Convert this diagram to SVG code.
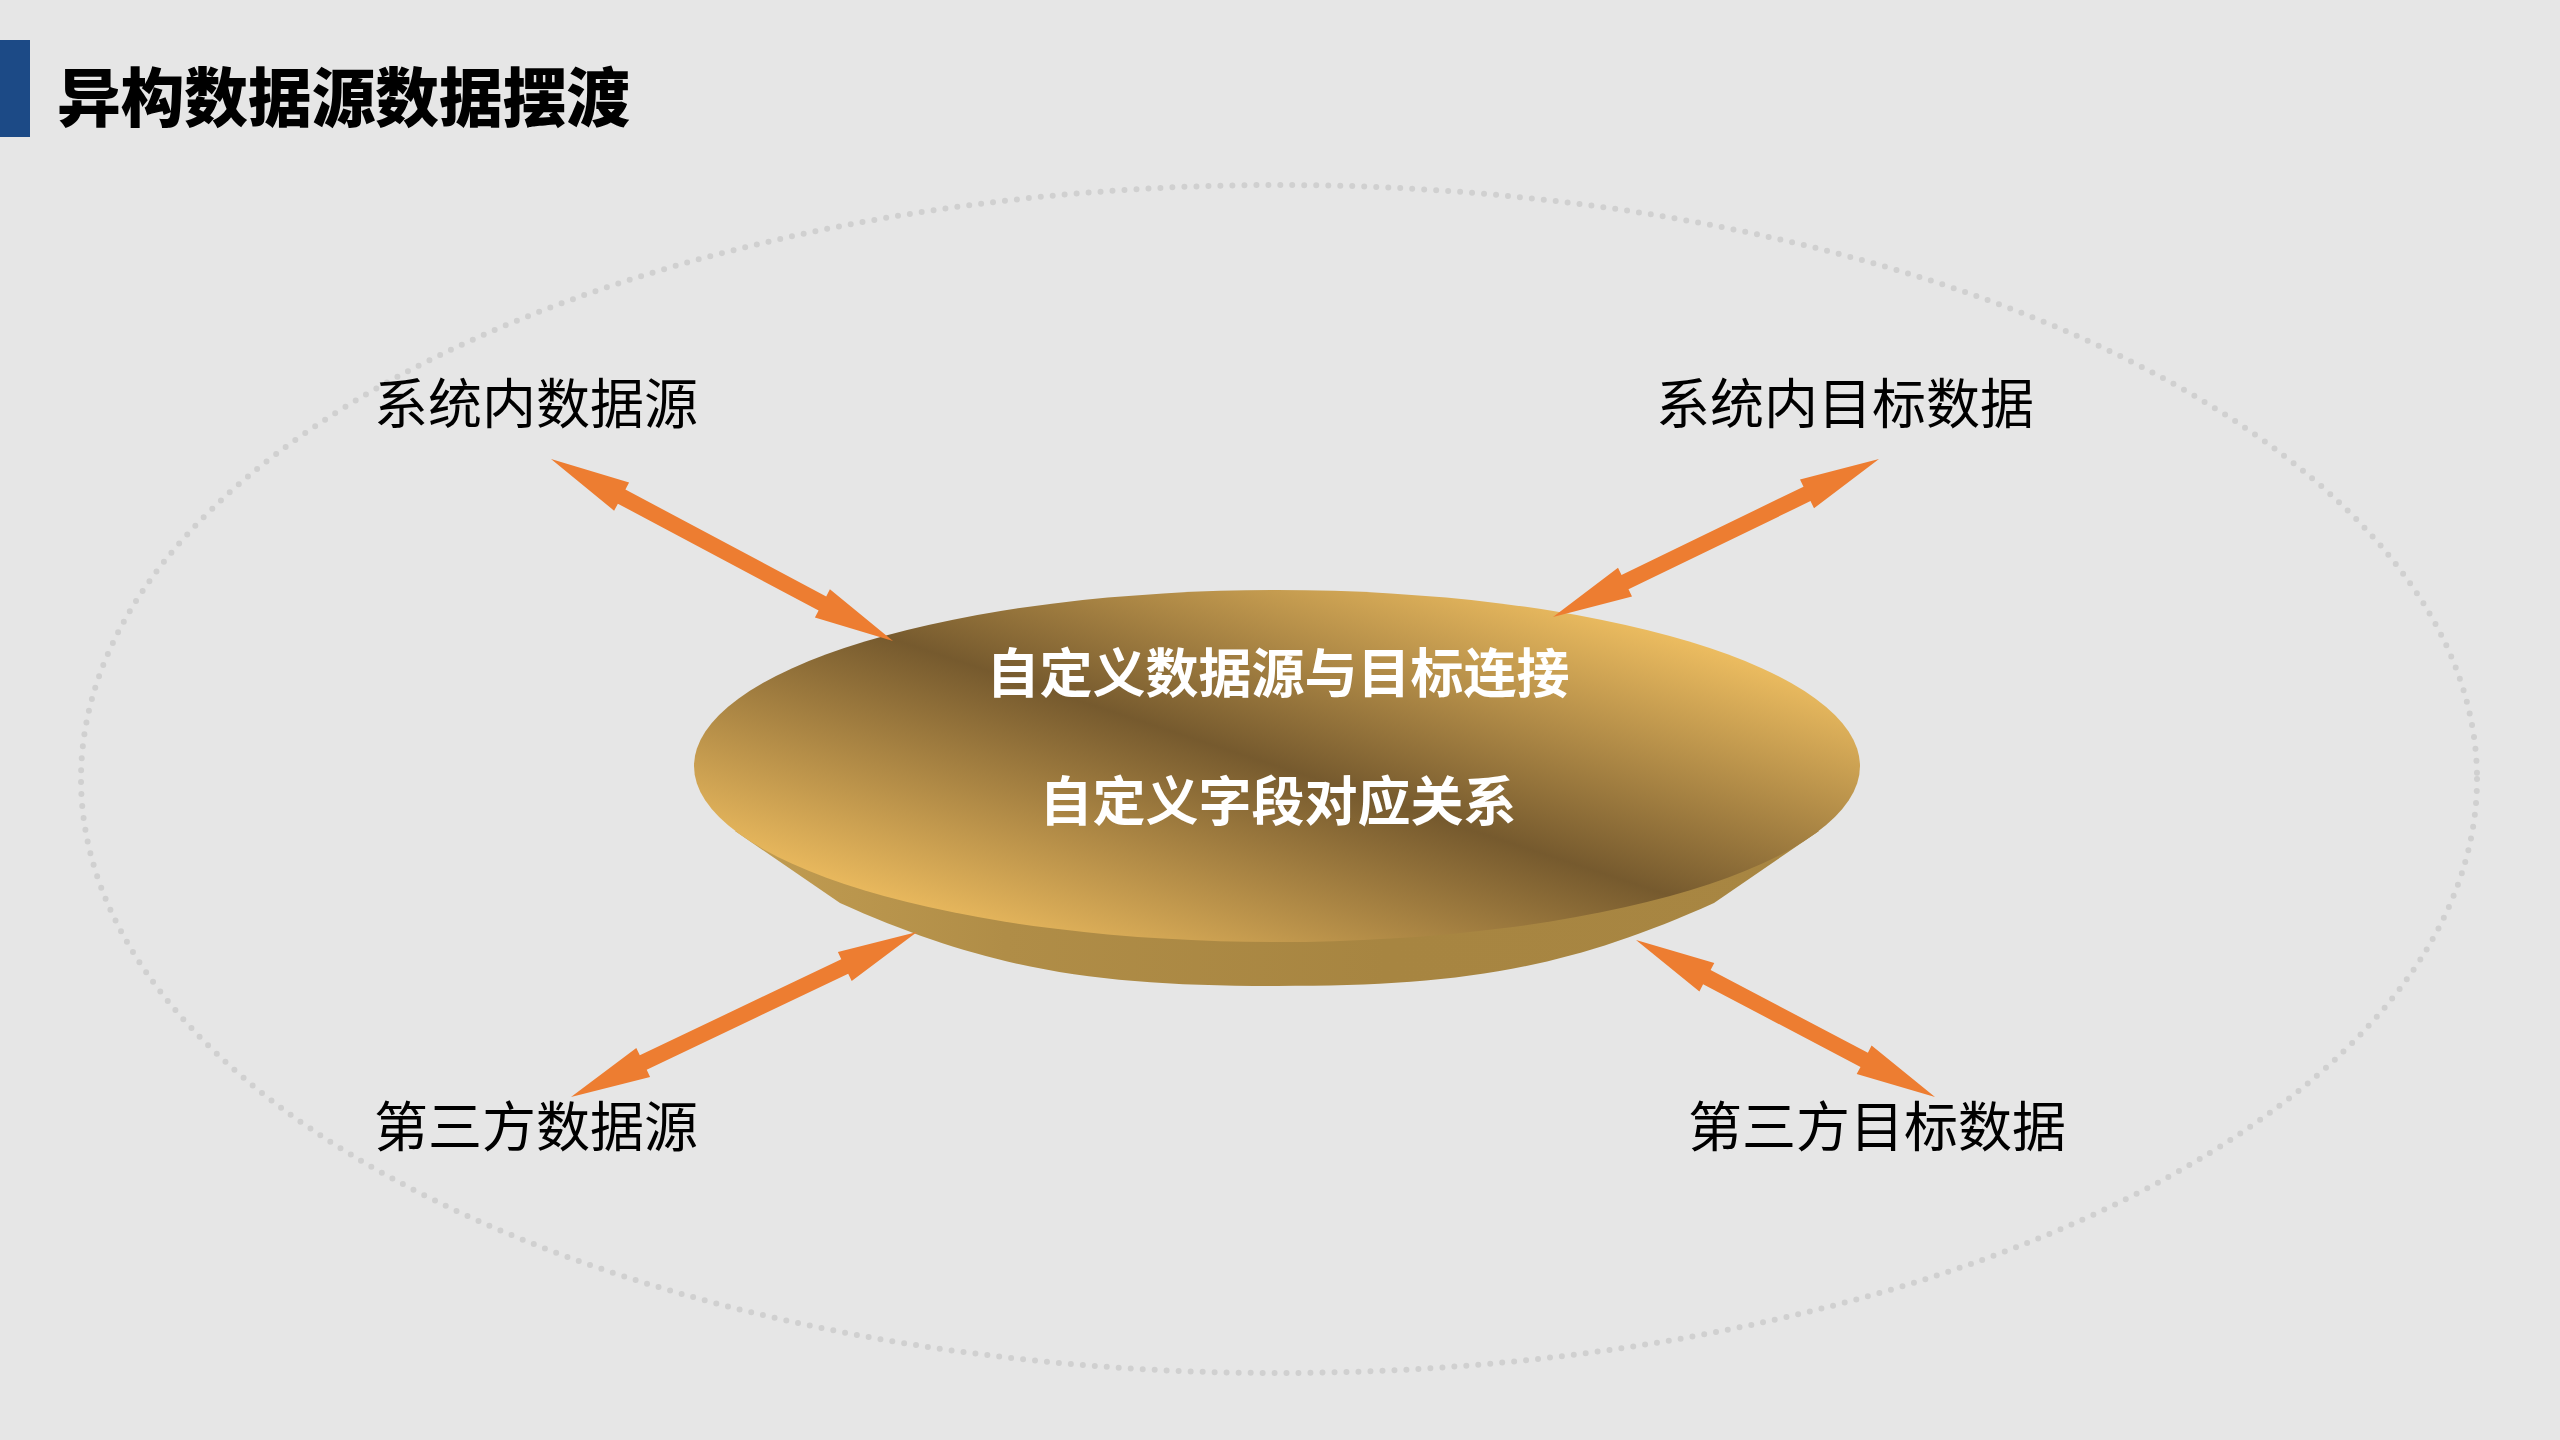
<svg xmlns="http://www.w3.org/2000/svg" width="2560" height="1440" viewBox="0 0 2560 1440">
  <defs>
    <style>
      .label { font-family: "Noto Sans CJK SC", "Noto Sans", sans-serif; font-size: 54px; font-weight: 400; fill: #000000; text-anchor: middle; }
      .disktext { font-family: "Noto Sans CJK SC", "Noto Sans", sans-serif; font-size: 53px; font-weight: 700; fill: #FFFFFF; text-anchor: middle; }
      .title { font-family: "Noto Sans CJK SC", "Noto Sans", sans-serif; font-size: 64px; font-weight: 900; fill: #000000; }
      .arrow { fill: #ED7D31; stroke: none; }
      .orbit { fill: none; stroke: #D0D0D0; stroke-width: 6; stroke-linecap: round; stroke-dasharray: 0 12; }
    </style>
    <linearGradient id="topGrad" gradientUnits="userSpaceOnUse" x1="1371" y1="481" x2="1183" y2="1051">
      <stop offset="0" stop-color="#F0C165"/>
      <stop offset="0.08" stop-color="#EEBE61"/>
      <stop offset="0.5" stop-color="#765A2E"/>
      <stop offset="0.93" stop-color="#EDBC5F"/>
      <stop offset="1" stop-color="#EDBC5F"/>
    </linearGradient>
    <linearGradient id="sideGrad" gradientUnits="userSpaceOnUse" x1="735" y1="0" x2="1819" y2="0">
      <stop offset="0" stop-color="#C29D52"/>
      <stop offset="0.25" stop-color="#B08D47"/>
      <stop offset="0.6" stop-color="#A78541"/>
      <stop offset="1" stop-color="#A88642"/>
    </linearGradient>
  </defs>

  <rect x="0" y="0" width="2560" height="1440" fill="#E6E6E6"/>

  <g id="title">
    <rect x="0" y="40" width="30" height="97" fill="#1C4A86"/>
    <text class="title" x="57" y="121" textLength="573" lengthAdjust="spacingAndGlyphs">异构数据源数据摆渡</text>
  </g>

  <g id="orbit">
    <ellipse class="orbit" cx="1279" cy="779" rx="1198" ry="594"/>
  </g>

  <g id="center-disk">
    <path d="M 735 831 L 840 903 C 990 970.5 1097 986 1277 986 C 1457 986 1564 970.5 1714 903 L 1819 831 Z" fill="url(#sideGrad)"/>
    <ellipse cx="1277" cy="766" rx="583" ry="176" fill="url(#topGrad)"/>
    <text class="disktext" x="1278" y="693">自定义数据源与目标连接</text>
    <text class="disktext" x="1278" y="821">自定义字段对应关系</text>
  </g>

  <g id="label-system-source">
    <text class="label" x="536" y="424">系统内数据源</text>
  </g>
  <g id="label-system-target">
    <text class="label" x="1845" y="424">系统内目标数据</text>
  </g>
  <g id="label-third-source">
    <text class="label" x="536" y="1147">第三方数据源</text>
  </g>
  <g id="label-third-target">
    <text class="label" x="1877" y="1147">第三方目标数据</text>
  </g>

  <g id="connectors">
    <polygon class="arrow" points="551,459 614.1,510.7 617.9,503.7 818.6,610.5 814.9,617.5 893,641 829.9,589.3 826.2,596.4 625.4,489.5 629.1,482.5"/>
    <polygon class="arrow" points="1553,617 1632,596.5 1628.5,589.3 1810.5,501.1 1814,508.3 1879,459 1800,479.5 1803.5,486.7 1621.5,574.9 1618,567.7"/>
    <polygon class="arrow" points="571,1097 650.1,1077 646.7,1069.8 848.2,973.7 851.7,980.9 917,932 837.9,952 841.3,959.2 639.8,1055.3 636.3,1048.1"/>
    <polygon class="arrow" points="1636,940 1699.4,991.4 1703.1,984.3 1860.5,1066.9 1856.7,1074 1935,1097 1871.6,1045.6 1867.9,1052.7 1710.6,970.1 1714.3,963"/>
  </g>
</svg>
